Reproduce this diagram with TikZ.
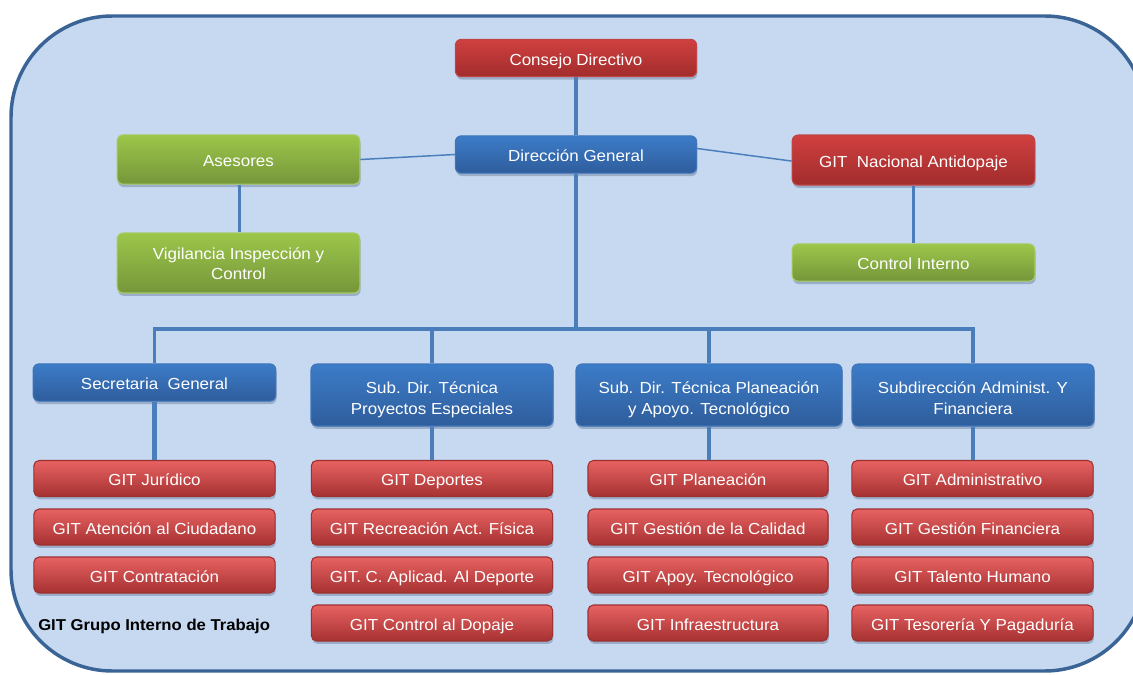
\documentclass[tikz,border=0pt]{standalone}
\usepackage{fontspec}
\setmainfont{Liberation Sans}[FakeStretch=1.06]
\usetikzlibrary{shadows}

\definecolor{panelfill}{HTML}{C6D9F1}
\definecolor{panelline}{HTML}{3B6496}
\definecolor{linkcol}{HTML}{4A7EBB}
\definecolor{redtop}{HTML}{D04040}
\definecolor{redbot}{HTML}{A22C2C}
\definecolor{redline}{HTML}{C04545}
\definecolor{gitlight}{HTML}{E86262}
\definecolor{gitmid}{HTML}{CC4242}
\definecolor{gitbot}{HTML}{A63131}
\definecolor{gitline}{HTML}{9E3030}
\definecolor{bluetop}{HTML}{3C7CC8}
\definecolor{bluebot}{HTML}{2F5D9C}
\definecolor{blueline}{HTML}{3F74B8}
\definecolor{greentop}{HTML}{9CC64A}
\definecolor{greenbot}{HTML}{76963A}
\definecolor{greenline}{HTML}{A8CB62}
\definecolor{shadowcol}{HTML}{4A5F80}

\tikzset{
  orgbox/.style={rounded corners=4.5pt, inner sep=0pt, align=center,
    text=white, font=\fontsize{12}{15.5}\selectfont, line width=0.8pt,
    drop shadow={shadow xshift=0.6pt, shadow yshift=-2.2pt, opacity=0.35, fill=shadowcol}},
  oneline/.style={text height=10.6pt, text depth=0pt},
  twoline/.style={text height=28.5pt, text depth=0pt},
  redbox/.style={orgbox, draw=redline, top color=redtop, bottom color=redbot},
  bluebox/.style={orgbox, draw=blueline, top color=bluetop, bottom color=bluebot},
  greenbox/.style={orgbox, draw=greenline, top color=greentop, bottom color=greenbot},
  gitbox/.style={orgbox, oneline, rounded corners=4pt, draw=gitline,
    top color=gitlight, middle color=gitmid, bottom color=gitbot,
    minimum width=181pt, minimum height=27pt},
  link/.style={draw=linkcol, line width=2.3pt},
  thinlink/.style={draw=linkcol, line width=1.1pt},
  thicklink/.style={draw=linkcol, line width=3.7pt},
}

\begin{document}
\begin{tikzpicture}[x=0.75pt, y=0.75pt]
  % page and clipping frame
  \fill[white] (0,0) rectangle (1133,-675);
  \useasboundingbox (0,0) rectangle (1133,-675);
  \clip (0,0) rectangle (1133,-675);

  % rounded panel
  \draw[fill=panelfill, draw=panelline, line width=2.6pt, rounded corners=76pt]
    (11,-16) rectangle (1146,-671);

  % top level
  \node[redbox, oneline, minimum width=181pt, minimum height=28pt] (cd) at (576,-58) {Consejo Directivo};
  \node[bluebox, oneline, minimum width=181pt, minimum height=28pt] (dg) at (576,-154.5) {Dirección General};

  % advisory branch
  \node[greenbox, oneline, minimum width=182pt, minimum height=37pt] (ases) at (238.5,-159.5) {Asesores};
  \node[greenbox, text height=25pt, text depth=0pt, minimum width=182pt, minimum height=45pt] (vig) at (238.5,-263) {Vigilancia Inspección y\\Control};

  % antidoping branch
  \node[redbox, oneline, minimum width=182pt, minimum height=37.5pt] (nac) at (913.5,-160) {GIT\ \ Nacional Antidopaje};
  \node[greenbox, oneline, minimum width=182pt, minimum height=28pt] (ci) at (913.5,-262.5) {Control Interno};

  % sub-directorates
  \node[bluebox, oneline, minimum width=182pt, minimum height=28pt] (sec) at (154.5,-382.5) {Secretaria\ \ General};
  \node[bluebox, twoline, minimum width=181.5pt, minimum height=46.5pt] (pro) at (432,-395) {Sub. Dir. Técnica\\Proyectos Especiales};
  \node[bluebox, twoline, minimum width=199.5pt, minimum height=46.5pt] (pla) at (709,-395) {Sub. Dir. Técnica Planeación\\y Apoyo. Tecnológico};
  \node[bluebox, twoline, minimum width=181.5pt, minimum height=46.5pt] (adm) at (973,-395) {Subdirección Administ. Y\\Financiera};

  % working groups
  \node[gitbox] (g11) at (154.5,-478.5) {GIT Jurídico};
  \node[gitbox] (g12) at (154.5,-527) {GIT Atención al Ciudadano};
  \node[gitbox] (g13) at (154.5,-575) {GIT Contratación};

  \node[gitbox] (g21) at (432,-478.5) {GIT Deportes};
  \node[gitbox] (g22) at (432,-527) {GIT Recreación Act. Física};
  \node[gitbox] (g23) at (432,-575) {GIT. C. Aplicad. Al Deporte};
  \node[gitbox] (g24) at (432,-623) {GIT Control al Dopaje};

  \node[gitbox, minimum width=180pt] (g31) at (708,-478.5) {GIT Planeación};
  \node[gitbox, minimum width=180pt] (g32) at (708,-527) {GIT Gestión de la Calidad};
  \node[gitbox, minimum width=180pt] (g33) at (708,-575) {GIT Apoy. Tecnológico};
  \node[gitbox, minimum width=180pt] (g34) at (708,-623) {GIT Infraestructura};

  \node[gitbox] (g41) at (972.5,-478.5) {GIT Administrativo};
  \node[gitbox] (g42) at (972.5,-527) {GIT Gestión Financiera};
  \node[gitbox] (g43) at (972.5,-575) {GIT Talento Humano};
  \node[gitbox] (g44) at (972.5,-623) {GIT Tesorería Y Pagaduría};

  % legend
  \node[anchor=west, inner sep=0pt, font=\bfseries\fontsize{11.8}{14}\selectfont] (legend) at (38,-626) {GIT Grupo Interno de Trabajo};

  % connectors
  \coordinate (bus) at (576,-329);
  \path[link] (cd.south) -- (dg.north);
  \path[link] (dg.south) -- (bus);
  \path[link] (sec.north) |- (bus) -| (adm.north);
  \path[link] (pro.north) -- (pro.north |- bus);
  \path[link] (pla.north) -- (pla.north |- bus);
  \path[link] ([xshift=1pt]ases.south) -- ([xshift=1pt]vig.north);
  \path[link] (nac.south) -- (ci.north);
  \path[thinlink] (ases.east) -- (dg.west);
  \path[thinlink] ([yshift=4.5pt]dg.east) -- ([yshift=-0.8pt]nac.west);
  \path[thicklink] (sec.south) -- (sec.south |- g11.north);
  \path[thicklink] (pro.south) -- (pro.south |- g21.north);
  \path[thicklink] (pla.south) -- (pla.south |- g31.north);
  \path[thicklink] (adm.south) -- (adm.south |- g41.north);
\end{tikzpicture}
\end{document}
